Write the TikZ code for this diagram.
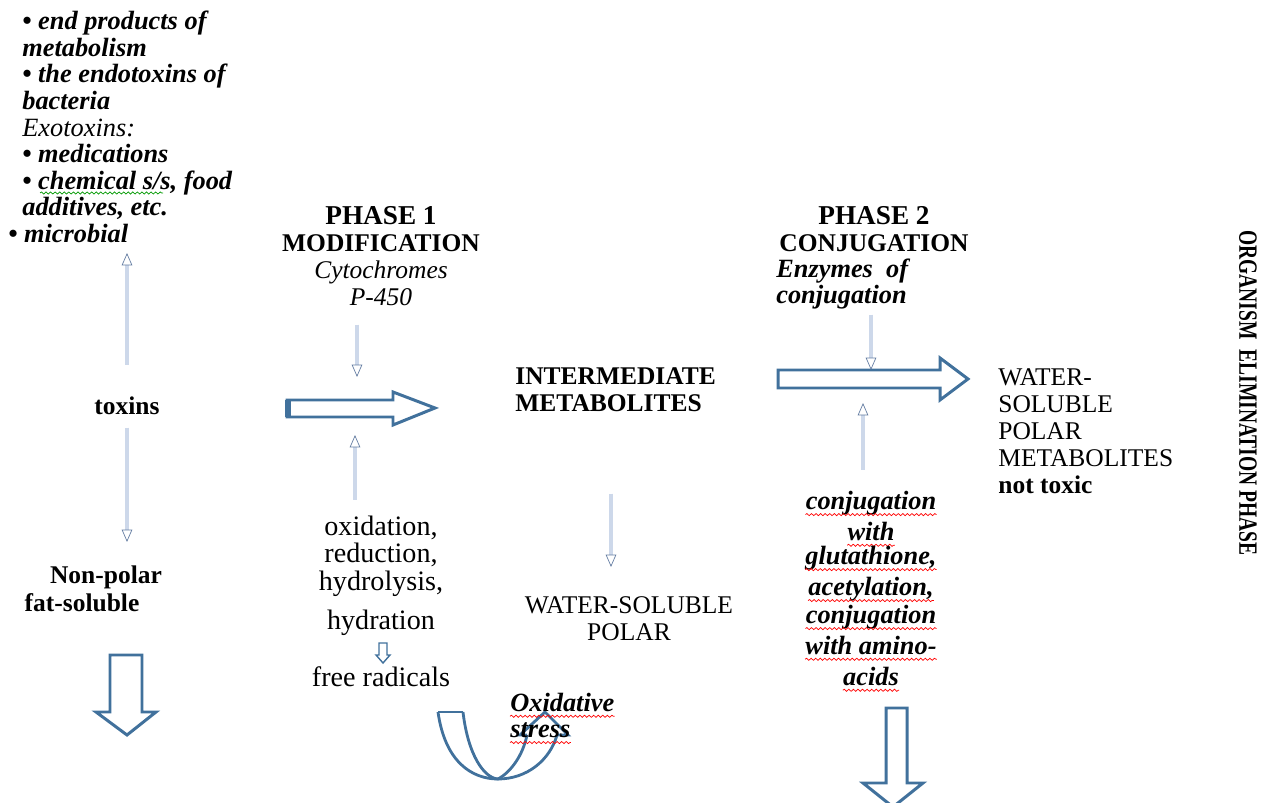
\documentclass[tikz,border=0pt]{standalone}
\usepackage{fontspec}
\setmainfont{Liberation Serif}
\usetikzlibrary{arrows.meta,decorations.pathmorphing}
\definecolor{arrowblue}{RGB}{65,113,156}
\definecolor{thinfill}{RGB}{205,216,234}
\definecolor{thinline}{RGB}{100,125,162}
\tikzset{
  rtxt/.style={inner sep=0pt, font=\fontsize{14.5}{15.4}\selectfont},
  btxt/.style={inner sep=0pt, font=\fontsize{14.5}{15.4}\selectfont\bfseries},
  bitxt/.style={inner sep=0pt, font=\fontsize{15}{15.1}\selectfont\bfseries\itshape},
  bigarrow/.style={draw=arrowblue, line width=1.7pt, fill=white, line join=miter},
  thinarrow/.style={draw=thinline, line width=0.4pt, double=thinfill, double distance=1.8pt, -{Triangle[open,length=7pt,width=6pt]}},
  wavy/.style={line width=0.4pt, decorate, decoration={snake, amplitude=0.6pt, segment length=2.6pt}},
}
\begin{document}
\begin{tikzpicture}[x=0.02cm,y=-0.02cm]
\useasboundingbox (0,0) rectangle (1261,803);
% sources of toxins
\node[bitxt, anchor=north west, align=left] (src) at (22,11) {• end products of\\ metabolism\\ • the endotoxins of\\ bacteria\\ {\mdseries Exotoxins:}\\ • medications\\ • chemical s/s, food\\ additives, etc.\\ \hspace*{-0.28cm}• microbial};
\draw[wavy, green!60!black] (40,193) -- (163,193);
\node[btxt] (toxins) at (127,406) {toxins};
\node[btxt] (np1) at (106,577) {Non-polar};
\node[btxt] (np2) at (82,603) {fat-soluble};
\coordinate (s1) at (127,365); \coordinate (e1) at (127,253);
\coordinate (s2) at (127,428); \coordinate (e2) at (127,542);
\draw[thinarrow] (s1) -- (e1);
\draw[thinarrow] (s2) -- (e2);
\draw[bigarrow] (110,655) -- (142,655) -- (142,712) -- (156,712) -- (127,735) -- (96,712) -- (110,712) -- cycle;
% phase 1
\node[btxt, align=center] (ph1) at (381,256) {{\fontsize{15.5}{15.4}\selectfont PHASE 1}\\ MODIFICATION\\ \mdseries\itshape Cytochromes\\ \mdseries\itshape P-450};
\coordinate (s3) at (357,325); \coordinate (e3) at (357,377);
\coordinate (s4) at (355,500); \coordinate (e4) at (355,435);
\draw[thinarrow] (s3) -- (e3);
\draw[thinarrow] (s4) -- (e4);
\draw[bigarrow] (287,400) -- (393,400) -- (393,392) -- (435,408) -- (393,425) -- (393,417) -- (287,417) -- cycle;
\draw[arrowblue, line width=3pt] (288,400) -- (288,417);
\node[rtxt, align=center, font=\fontsize{16}{15.6}\selectfont] (react) at (381,576) {oxidation,\\ reduction,\\ hydrolysis,\\[7pt] hydration};
\draw[bigarrow, line width=0.8pt] (379,643) -- (387,643) -- (387,655) -- (390,655) -- (383,663) -- (376,655) -- (379,655) -- cycle;
\node[rtxt, font=\fontsize{16}{15.4}\selectfont] (frad) at (381,677) {free radicals};
% intermediate metabolites
\node[btxt, anchor=west, align=left] (inter) at (515,390) {INTERMEDIATE\\ METABOLITES};
\coordinate (s5) at (611,494); \coordinate (e5) at (611,567);
\draw[thinarrow] (s5) -- (e5);
\node[rtxt, align=center] (wsol) at (629,619) {WATER-SOLUBLE\\ POLAR};
% oxidative stress
\draw[arrowblue, line width=1.6pt] (438,712) -- (463,712);
\draw[arrowblue, line width=1.6pt] (438,712) .. controls (445,762) and (472,779) .. (498,779) .. controls (527,779) and (550,760) .. (557,735);
\draw[arrowblue, line width=1.6pt] (463,712) .. controls (468,755) and (484,778) .. (498,779) .. controls (511,772) and (523,755) .. (527,735);
\draw[arrowblue, line width=1.6pt, line join=miter] (527,735) -- (520,735) -- (545,712) -- (568,735) -- (557,735);
\node[bitxt, anchor=west] (ox1) at (510,702) {Oxidative};
\node[bitxt, anchor=west] (ox2) at (510,730) {stress};
\draw[wavy, red] ([yshift=-3pt]ox1.base west) -- ([yshift=-3pt]ox1.base east);
\draw[wavy, red] ([yshift=-3pt]ox2.base west) -- ([yshift=-3pt]ox2.base east);
% phase 2
\node[btxt, align=center] (ph2) at (874,229) {{\fontsize{15.5}{15.4}\selectfont PHASE 2}\\ CONJUGATION};
\node[bitxt, anchor=west, align=left] (enz) at (776,284) {Enzymes~ of\\ conjugation};
\coordinate (s6) at (871,315); \coordinate (e6) at (871,370);
\coordinate (s7) at (863,470); \coordinate (e7) at (863,403);
\draw[bigarrow] (778,370) -- (940,370) -- (940,358) -- (968,379) -- (940,400) -- (940,388) -- (778,388) -- cycle;
\draw[thinarrow] (s6) -- (e6);
\draw[thinarrow] (s7) -- (e7);
\node[rtxt, anchor=west, align=left] (wsp) at (998,431) {WATER-\\ SOLUBLE\\ POLAR\\ METABOLITES\\ \textbf{not toxic}};
\foreach \t/\y [count=\i] in {conjugation/503, with/531, {glutathione,}/558, {acetylation,}/589, conjugation/617, with amino-/645, acids/676}{
  \node[bitxt] (cj\i) at (871,\y) {\t};
  \draw[wavy, red] ([yshift=-3pt]cj\i.base west) -- ([yshift=-3pt]cj\i.base east);
}
\draw[bigarrow] (886,708) -- (907,708) -- (907,783) -- (923,783) -- (893,807) -- (863,783) -- (886,783) -- cycle;
% elimination
\node[btxt, rotate=-90, font=\fontsize{15}{15}\selectfont\bfseries] (elim) at (1248,393) {\scalebox{0.74}[1]{ORGANISM~ ELIMINATION PHASE}};
\end{tikzpicture}
\end{document}
